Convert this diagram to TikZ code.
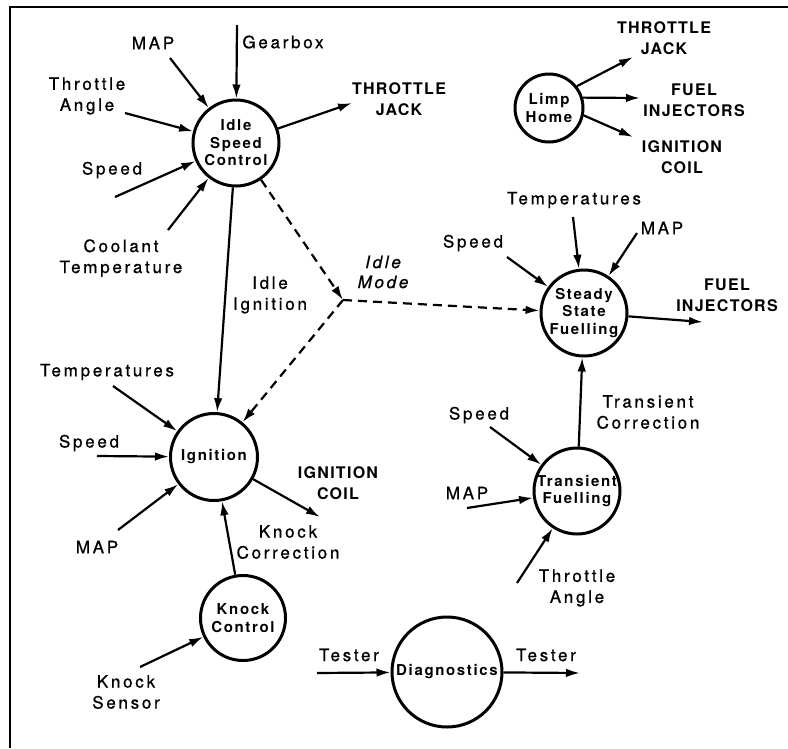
\documentclass[tikz,border=0pt]{standalone}
\usepackage{fontspec}
\setmainfont{TeX Gyre Heros}
\newfontfamily\labfont[LetterSpace=16,FakeBold=0.8]{TeX Gyre Heros}
\newfontfamily\procfont[LetterSpace=11]{TeX Gyre Heros}
\newfontfamily\outfont[LetterSpace=8]{TeX Gyre Heros}
\usetikzlibrary{arrows.meta}
\begin{document}
\begin{tikzpicture}[x=1pt,y=-1pt,
  proc/.style={circle, draw, line width=3pt, minimum size=86pt, inner sep=0pt, align=center,
    font=\procfont\bfseries\fontsize{15}{17.5}\selectfont},
  lab/.style={align=center, inner sep=0pt, font=\labfont\fontsize{17}{21}\selectfont},
  ilab/.style={align=center, inner sep=0pt, font=\labfont\itshape\fontsize{17}{20}\selectfont},
  outl/.style={align=center, inner sep=0pt, font=\outfont\bfseries\fontsize{16}{21}\selectfont},
  arr/.style={line width=2.2pt, -{Latex[length=14pt,width=8.5pt]}},
  dsh/.style={arr, dash pattern=on 9pt off 6pt}]
\useasboundingbox (0,0) rectangle (788,748);
\draw[line width=2pt] (10,748) -- (10,7) -- (788,7);

% process circles
\node[proc] (isc) at (236,143) {Idle\\Speed\\Control};
\node[proc, minimum size=68pt] (lh) at (549,108) {Limp\\Home};
\node[proc] (ssf) at (584,313) {Steady\\State\\Fuelling};
\node[proc, minimum size=87pt] (ign) at (214,457) {Ignition};
\node[proc] (tf) at (577,491) {Transient\\Fuelling};
\node[proc, minimum size=85pt] (kc) at (243,618) {Knock\\Control};
\node[proc, minimum size=110pt] (dg) at (447,672) {Diagnostics};
\coordinate (jn) at (343,300);

% labels
\node[lab] (l1) at (153,43) {MAP};
\node[lab] (l2) at (283,42) {Gearbox};
\node[lab] (l3) at (87,96) {Throttle\\Angle};
\node[lab] (l4) at (112,170) {Speed};
\node[lab] (l5) at (121,258) {Coolant\\Temperature};
\node[outl] (o1) at (399,99) {THROTTLE\\JACK};
\node[lab] (l6) at (270,295) {Idle\\Ignition};
\node[ilab] (l7) at (383,272) {Idle\\Mode};
\node[outl] (o2) at (664,38) {THROTTLE\\JACK};
\node[outl] (o3) at (694,100) {FUEL\\INJECTORS};
\node[outl] (o4) at (682,157) {IGNITION\\COIL};
\node[lab] (l8) at (574,200) {Temperatures};
\node[lab] (l9) at (662,228) {MAP};
\node[lab] (l10) at (473,243) {Speed};
\node[outl] (o5) at (727,295) {FUEL\\INJECTORS};
\node[lab] (l11) at (107,372) {Temperatures};
\node[lab] (l12) at (89,443) {Speed};
\node[lab] (l13) at (97,547) {MAP};
\node[outl] (o6) at (338,483) {IGNITION\\COIL};
\node[lab] (l14) at (288,542) {Knock\\Correction};
\node[lab] (l15) at (126,692) {Knock\\Sensor};
\node[lab] (l16) at (648,412) {Transient\\Correction};
\node[lab] (l17) at (479,415) {Speed};
\node[lab] (l18) at (467,493) {MAP};
\node[lab] (l19) at (577,588) {Throttle\\Angle};
\node[lab] (l20) at (349,655) {Tester};
\node[lab] (l21) at (546,655) {Tester};

% arrow tails / heads
\coordinate (a1) at (170,58);
\coordinate (a2) at (237,25);
\coordinate (a3) at (125,113);
\coordinate (a4) at (115,197);
\coordinate (a5) at (168,230);
\coordinate (h1) at (352,103);
\coordinate (h2) at (633,57);
\coordinate (h3) at (640,98);
\coordinate (h4) at (633,137);
\coordinate (a6) at (573,217);
\coordinate (a7) at (637,233);
\coordinate (a8) at (507,257);
\coordinate (h5) at (703,322);
\coordinate (a9) at (113,386);
\coordinate (a10) at (97,456);
\coordinate (a11) at (118,530);
\coordinate (h6) at (320,517);
\coordinate (a12) at (140,667);
\coordinate (a13) at (490,427);
\coordinate (a14) at (467,508);
\coordinate (a15) at (517,583);
\coordinate (a16) at (317,673);
\coordinate (h7) at (580,673);

% Idle speed control
\draw[arr] (a1) -- (isc);
\draw[arr] (a2) -- (isc);
\draw[arr] (a3) -- (isc);
\draw[arr] (a4) -- (isc);
\draw[arr] (a5) -- (isc);
\draw[arr] (isc) -- (h1);
\draw[arr] (isc) -- (ign);
\draw[dsh] (isc) -- (jn);
\draw[dsh] (jn) -- (ssf);
\draw[dsh] (jn) -- (ign);

% Limp home
\draw[arr] (lh.38) -- (h2);
\draw[arr] (lh.17) -- (h3);
\draw[arr] (lh.-12) -- (h4);

% Steady state
\draw[arr] (a6) -- (ssf);
\draw[arr] (a7) -- (ssf);
\draw[arr] (a8) -- (ssf);
\draw[arr] (ssf) -- (h5);

% Ignition
\draw[arr] (a9) -- (ign);
\draw[arr] (a10) -- (ign);
\draw[arr] (a11) -- (ign);
\draw[arr] (ign) -- (h6);
\draw[arr] (kc) -- (ign);
\draw[arr] (a12) -- (kc);

% Transient
\draw[arr] (tf) -- (ssf);
\draw[arr] (a13) -- (tf);
\draw[arr] (a14) -- (tf);
\draw[arr] (a15) -- (tf);

% Diagnostics
\draw[arr] (a16) -- (dg);
\draw[arr] (dg) -- (h7);
\end{tikzpicture}
\end{document}
